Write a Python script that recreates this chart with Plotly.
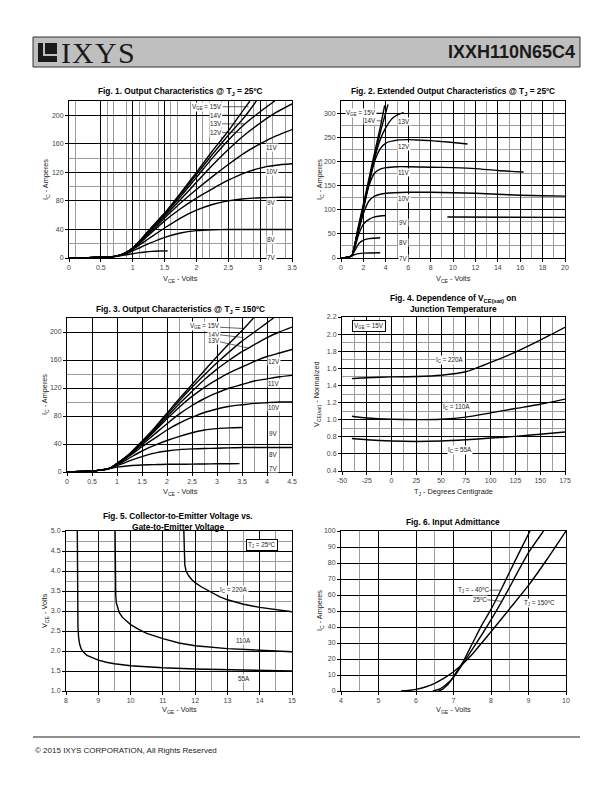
import plotly.graph_objects as go

# page has an 8px body margin, so the figure is sized to fit the 612x792 window
W, H = 604, 784
OFF = 8
def px(x): return (x - OFF) / W
def py(y): return 1 - (y - OFF) / H

# ---------------- DATA ----------------
# Fig 1: Output characteristics @ Tj=25C  (VCE volts, IC amps)
f1_x_7 = [0, 0.3, 0.5, 0.7, 0.8, 0.9, 1.0, 1.1, 1.2, 1.3, 1.4, 1.55]
f1_y_7 = [0, 0.5, 1, 2, 3, 4.5, 6, 7.5, 8.5, 9.3, 9.8, 10]
f1_x = [0, 0.3, 0.5, 0.7, 0.8, 0.9, 1.0, 1.1, 1.25, 1.5, 1.75, 2.0, 2.25, 2.5, 2.75, 3.0, 3.25, 3.5]
f1_y_8 = [0, 0.5, 1, 2, 3.5, 6, 10, 14, 20, 29, 35, 38.3, 39.5, 40, 40, 40, 40, 40]
f1_y_9 = [0, 0.5, 1, 2, 4, 7, 12, 18, 27, 42, 56, 67, 75, 80, 83, 84.5, 85, 85]
f1_y_10 = [0, 0.5, 1, 2, 4, 8, 13, 20, 32, 52, 69, 84, 97, 109, 119, 126, 130, 132]
f1_y_11 = [0, 0.5, 1, 2, 4, 8, 13.5, 21, 34, 56, 77, 96, 114, 131, 147, 160, 171, 180]
f1_y_12 = [0, 0.5, 1, 2, 4, 8, 14, 22, 36, 59, 82, 106, 130, 152, 172, 189, 204, 216]
f1_x_13 = [0, 0.3, 0.5, 0.7, 0.8, 0.9, 1.0, 1.1, 1.25, 1.5, 1.75, 2.0, 2.25, 2.5, 2.75, 3.0, 3.23]
f1_y_13 = [0, 0.5, 1, 2, 4, 8, 14, 22.5, 37, 61, 86, 113, 140, 165, 187, 205, 220]
f1_x_14 = [0, 0.3, 0.5, 0.7, 0.8, 0.9, 1.0, 1.1, 1.25, 1.5, 1.75, 2.0, 2.25, 2.5, 2.75, 2.94]
f1_y_14 = [0, 0.5, 1, 2, 4, 8, 14, 23, 38, 62, 89, 117, 145, 172, 197, 220]
f1_x_15 = [0, 0.3, 0.5, 0.7, 0.8, 0.9, 1.0, 1.1, 1.25, 1.5, 1.75, 2.0, 2.25, 2.5, 2.75, 2.84]
f1_y_15 = [0, 0.5, 1, 2, 4, 8, 14, 23, 38.5, 63, 91, 120, 150, 178, 209, 220]
f1_xticks = [0, 0.5, 1, 1.5, 2, 2.5, 3, 3.5]
f1_xticktext = ["0", "0.5", "1", "1.5", "2", "2.5", "3", "3.5"]
f1_yticks = [0, 40, 80, 120, 160, 200]
f1_xminor = [0.1, 0.6, 0.7, 0.9, 1.1, 1.2, 1.4, 1.6, 1.7, 1.9, 2.1, 2.2, 2.4, 2.6, 2.7, 2.9, 3.1, 3.2, 3.4]
f1_yminor = [20, 100, 140]

# Fig 2: Extended output characteristics @ Tj=25C
f2_x_7 = [0, 0.5, 0.8, 1.0, 1.3, 1.6, 2.0, 2.5, 3.5]
f2_y_7 = [0, 1, 3, 5, 7.5, 9, 10, 10.5, 11]
f2_x_8 = [0, 0.5, 0.8, 1.0, 1.3, 1.6, 2.0, 2.5, 3.0, 3.5]
f2_y_8 = [0, 1, 3, 6, 18, 30, 37, 40, 41, 42]
f2_x_9 = [0, 0.5, 0.8, 1.0, 1.3, 1.6, 2.0, 2.5, 3.0, 3.5, 4.0, None, 9.5, 20]
f2_y_9 = [0, 1, 3, 6, 27, 50, 70, 80, 85, 87, 88, None, 85, 84]
f2_x_10 = [0, 0.5, 0.8, 1.0, 1.3, 1.6, 2.0, 2.5, 3.0, 3.5, 4.0, 6, 8, 10, 12, 14, 16, 18, 20]
f2_y_10 = [0, 1, 3, 6, 30, 58, 92, 118, 128, 132, 134, 136, 136, 135, 134, 132, 130, 129, 128]
f2_x_11 = [0, 0.5, 0.8, 1.0, 1.3, 1.6, 2.0, 2.5, 3.0, 3.5, 4.0, 5, 6, 8, 10, 12, 14, 16.3]
f2_y_11 = [0, 1, 3, 6, 34, 64, 102, 150, 176, 184, 187, 189, 189, 188, 187, 185, 181, 178]
f2_x_12 = [0, 0.5, 0.8, 1.0, 1.3, 1.6, 2.0, 2.5, 3.0, 3.5, 4.0, 5, 6, 7, 8, 9, 10, 11.3]
f2_y_12 = [0, 1, 3, 6, 34, 65, 104, 155, 200, 226, 238, 244, 245, 244, 243, 241, 239, 236]
f2_x_13 = [0, 0.5, 0.8, 1.0, 1.3, 1.6, 2.0, 2.5, 3.0, 3.5, 4.0, 4.5, 5.0, 5.6]
f2_y_13 = [0, 1, 3, 6, 34, 65, 105, 157, 207, 245, 270, 287, 296, 301]
f2_x_14 = [0, 0.5, 0.8, 1.0, 1.5, 2.0, 2.5, 3.0, 3.5, 4.2]
f2_y_14 = [0, 1, 3, 6, 57, 106, 157, 208, 259, 318]
f2_x_15 = [0, 0.5, 0.8, 1.0, 1.5, 2.0, 2.5, 3.0, 3.5, 3.9]
f2_y_15 = [0, 1, 3, 6, 60, 112, 165, 218, 270, 316]
f2_xticks = [0, 2, 4, 6, 8, 10, 12, 14, 16, 18, 20]
f2_yticks = [0, 50, 100, 150, 200, 250, 300]
f2_xminor = [1, 3, 5, 7, 9, 11, 13, 15, 17, 19]
f2_yminor = [25, 75, 125, 175, 225, 275]

# Fig 3: Output characteristics @ Tj=150C
f3_x = [0, 0.3, 0.5, 0.7, 0.8, 0.9, 1.0, 1.25, 1.5, 1.75, 2.0, 2.25, 2.5, 2.75, 3.0, 3.25, 3.5, 3.75, 4.0, 4.25, 4.5]
f3_x_7 = [0, 0.3, 0.5, 0.7, 0.8, 0.9, 1.0, 1.25, 1.5, 1.75, 2.0, 2.25, 2.5, 2.75, 3.0, 3.25, 3.45]
f3_y_7 = [0, 0.8, 1.5, 3, 4, 5.5, 7, 9, 10, 10.5, 11, 11, 11.3, 11.5, 11.7, 11.8, 12]
f3_y_8 = [0, 0.8, 1.5, 3, 4, 6, 9, 16, 22, 27, 30, 32, 33, 33.5, 34, 34.5, 35, 35, 35, 35, 35]
f3_x_9 = [0, 0.3, 0.5, 0.7, 0.8, 0.9, 1.0, 1.25, 1.5, 1.75, 2.0, 2.25, 2.5, 2.75, 3.0, 3.25, 3.5]
f3_y_9 = [0, 0.8, 1.5, 3, 4, 6.5, 10, 20, 30, 38, 45, 51, 56, 60, 62, 63, 63.5]
f3_y_10 = [0, 0.8, 1.5, 3, 4, 7, 11, 23, 36, 48, 60, 70, 78, 85, 90, 94, 96, 98, 99, 100, 100]
f3_y_11 = [0, 0.8, 1.5, 3, 4, 7, 11.5, 24, 39, 54, 69, 83, 95, 105, 113, 120, 125, 130, 133, 136, 138]
f3_y_12 = [0, 0.8, 1.5, 3, 4, 7, 12, 25, 41, 58, 76, 93, 108, 121, 132, 142, 150, 158, 165, 170, 175]
f3_y_13 = [0, 0.8, 1.5, 3, 4, 7, 12, 25, 42, 60, 79, 98, 115, 132, 147, 160, 172, 182, 192, 200, 207]
f3_x_14 = [0, 0.3, 0.5, 0.7, 0.8, 0.9, 1.0, 1.25, 1.5, 1.75, 2.0, 2.25, 2.5, 2.75, 3.0, 3.25, 3.5, 3.75, 4.0, 4.13]
f3_y_14 = [0, 0.8, 1.5, 3, 4, 7, 12, 25, 43, 62, 82, 102, 121, 139, 156, 172, 187, 200, 213, 220]
f3_x_15 = [0, 0.3, 0.5, 0.7, 0.8, 0.9, 1.0, 1.25, 1.5, 1.75, 2.0, 2.25, 2.5, 2.75, 3.0, 3.25, 3.5, 3.73]
f3_y_15 = [0, 0.8, 1.5, 3, 4, 7, 12, 26, 44, 63, 84, 105, 125, 145, 165, 184, 202, 220]
f3_xticks = [0, 0.5, 1, 1.5, 2, 2.5, 3, 3.5, 4, 4.5]
f3_xticktext = ["0", "0.5", "1", "1.5", "2", "2.5", "3", "3.5", "4", "4.5"]
f3_yticks = [0, 40, 80, 120, 160, 200]
f3_xminor = [2.25, 2.75, 3.25, 3.75, 4.25]
f3_yminor = [100, 140]

# Fig 4: VCE(sat) normalized vs junction temperature
f4_tj = [-40, -25, 0, 25, 50, 75, 100, 125, 150, 175]
f4_220 = [1.48, 1.49, 1.50, 1.505, 1.52, 1.56, 1.67, 1.79, 1.93, 2.08]
f4_110 = [1.04, 1.02, 1.005, 1.0, 1.005, 1.03, 1.08, 1.13, 1.18, 1.24]
f4_55 = [0.78, 0.765, 0.75, 0.745, 0.75, 0.765, 0.785, 0.805, 0.83, 0.855]
f4_xticks = [-50, -25, 0, 25, 50, 75, 100, 125, 150, 175]
f4_xticktext = ["-50", "-25", "0", "25", "50", "75", "100", "125", "150", "175"]
f4_yticks = [0.4, 0.6, 0.8, 1.0, 1.2, 1.4, 1.6, 1.8, 2.0, 2.2]
f4_xminor = [-37.5, -12.5, 12.5, 37.5, 62.5, 87.5, 112.5, 137.5, 162.5]
f4_yminor = [0.9, 1.1, 1.3, 1.5, 1.7, 1.9]

# Fig 5: VCE vs VGE @ Tj=25C
f5_x_55 = [8.35, 8.355, 8.36, 8.37, 8.39, 8.42, 8.47, 8.55, 8.65, 8.8, 9.0, 9.25, 9.5, 10, 10.5, 11, 12, 13, 14, 15]
f5_y_55 = [5.0, 4.0, 3.0, 2.6, 2.35, 2.18, 2.05, 1.96, 1.89, 1.83, 1.77, 1.72, 1.68, 1.63, 1.60, 1.58, 1.55, 1.53, 1.51, 1.50]
f5_x_110 = [9.52, 9.525, 9.53, 9.54, 9.56, 9.6, 9.65, 9.75, 9.9, 10, 10.25, 10.5, 11, 11.5, 12, 12.5, 13, 14, 15]
f5_y_110 = [5.0, 4.3, 3.7, 3.4, 3.2, 3.06, 2.96, 2.84, 2.72, 2.66, 2.54, 2.44, 2.31, 2.2, 2.13, 2.09, 2.06, 2.02, 1.98]
f5_x_220 = [11.65, 11.655, 11.66, 11.68, 11.72, 11.8, 11.9, 12.0, 12.2, 12.5, 12.75, 13, 13.5, 14, 14.5, 15]
f5_y_220 = [5.0, 4.6, 4.35, 4.15, 4.0, 3.88, 3.78, 3.71, 3.6, 3.46, 3.36, 3.28, 3.17, 3.09, 3.03, 2.98]
f5_xticks = [8, 9, 10, 11, 12, 13, 14, 15]
f5_yticks = [1.0, 1.5, 2.0, 2.5, 3.0, 3.5, 4.0, 4.5, 5.0]
f5_xminor = [9.5, 11.5, 12.5, 13.5, 14.5]
f5_yminor = [3.25, 3.75, 4.25, 4.75]

# Fig 6: Input admittance
f6_x_m40 = [6.6, 6.7, 6.8, 6.9, 7.0, 7.25, 7.5, 7.75, 8.0, 8.25, 8.5, 8.75, 9.04]
f6_y_m40 = [0, 1, 3, 5.5, 9, 18, 29.5, 41, 51, 62.5, 74.5, 86.5, 100]
f6_x_25 = [6.45, 6.6, 6.7, 6.85, 7.0, 7.25, 7.5, 7.75, 8.0, 8.25, 8.5, 8.75, 9.0, 9.4]
f6_y_25 = [0, 1, 2.2, 5, 8.5, 17, 26, 35, 44.5, 54.5, 65, 76, 86.5, 100]
f6_x_150 = [5.6, 5.8, 6.0, 6.25, 6.5, 6.75, 7.0, 7.25, 7.5, 7.75, 8.0, 8.5, 9.0, 9.5, 10.0]
f6_y_150 = [0, 0.3, 1, 2.5, 4.8, 8, 12, 17, 23, 30, 37, 51.5, 66, 82.5, 100]
f6_xticks = [4, 5, 6, 7, 8, 9, 10]
f6_yticks = [0, 10, 20, 30, 40, 50, 60, 70, 80, 90, 100]
f6_xminor = [4.5, 6.5, 8.5]

# header / footer text
logo_letters = ["I", "X", "Y", "S"]
part_number = "IXXH110N65C4"
footer_text = "© 2015 IXYS CORPORATION, All Rights Reserved"

# ---------------- FIGURE ----------------
SANS = "Liberation Sans, Arial, sans-serif"
SERIF = "Liberation Serif, Times New Roman, serif"
fig = go.Figure()

def add(x, y, ax, shape="spline", width=1.4):
    n = "" if ax == 1 else str(ax)
    fig.add_trace(go.Scatter(x=x, y=y, mode="lines", xaxis="x" + n, yaxis="y" + n,
                             line=dict(color="black", width=width, shape=shape, smoothing=0.6),
                             showlegend=False, hoverinfo="skip"))

for yy in [f1_y_8, f1_y_9, f1_y_10, f1_y_11, f1_y_12]:
    add(f1_x, yy, 1)
add(f1_x_7, f1_y_7, 1)
add(f1_x_13, f1_y_13, 1)
add(f1_x_14, f1_y_14, 1)
add(f1_x_15, f1_y_15, 1)

for xx, yy in [(f2_x_7, f2_y_7), (f2_x_8, f2_y_8), (f2_x_9, f2_y_9), (f2_x_10, f2_y_10),
               (f2_x_11, f2_y_11), (f2_x_12, f2_y_12), (f2_x_13, f2_y_13),
               (f2_x_14, f2_y_14), (f2_x_15, f2_y_15)]:
    add(xx, yy, 2)

add(f3_x_7, f3_y_7, 3)
add(f3_x, f3_y_8, 3)
add(f3_x_9, f3_y_9, 3)
for yy in [f3_y_10, f3_y_11, f3_y_12, f3_y_13]:
    add(f3_x, yy, 3)
add(f3_x_14, f3_y_14, 3)
add(f3_x_15, f3_y_15, 3)

for yy in [f4_220, f4_110, f4_55]:
    add(f4_tj, yy, 4)

add(f5_x_55, f5_y_55, 5, shape="linear")
add(f5_x_110, f5_y_110, 5, shape="linear")
add(f5_x_220, f5_y_220, 5, shape="linear")

add(f6_x_m40, f6_y_m40, 6)
add(f6_x_25, f6_y_25, 6)
add(f6_x_150, f6_y_150, 6)

def axis(l, r, rng, tickvals, minor, anchor, ticktext=None, fmt=None, ytitle=False):
    d = dict(domain=[px(l), px(r)] if not ytitle else [py(r), py(l)], range=rng,
             tickmode="array", tickvals=tickvals,
             showgrid=True, gridcolor="black", gridwidth=1,
             minor=dict(tickmode="array", tickvals=minor, showgrid=True,
                        gridcolor="#9c9c9c", gridwidth=1, ticks=""),
             showline=True, linecolor="black", linewidth=1, mirror=True,
             ticks="outside", ticklen=3, tickwidth=1, tickcolor="black",
             tickfont=dict(size=7, color="#444", family=SANS),
             zeroline=False, anchor=anchor, fixedrange=True, automargin=False)
    if ticktext is not None:
        d["ticktext"] = ticktext
    if fmt:
        d["tickformat"] = fmt
    return d

fig.update_layout(
    width=W, height=H, margin=dict(l=0, r=0, t=0, b=0, autoexpand=False),
    paper_bgcolor="white", plot_bgcolor="white", showlegend=False,
    xaxis=axis(69, 292, [0, 3.5], f1_xticks, f1_xminor, "y", f1_xticktext),
    yaxis=axis(101, 258, [0, 220], f1_yticks, f1_yminor, "x", ytitle=True),
    xaxis2=axis(341, 565, [0, 20], f2_xticks, f2_xminor, "y2"),
    yaxis2=axis(101, 258, [0, 325], f2_yticks, f2_yminor, "x2", ytitle=True),
    xaxis3=axis(67, 292, [0, 4.5], f3_xticks, f3_xminor, "y3", f3_xticktext),
    yaxis3=axis(318, 472, [0, 220], f3_yticks, f3_yminor, "x3", ytitle=True),
    xaxis4=axis(342, 565, [-50, 175], f4_xticks, f4_xminor, "y4", f4_xticktext),
    yaxis4=axis(317, 471, [0.4, 2.2], f4_yticks, f4_yminor, "x4", fmt=".1f", ytitle=True),
    xaxis5=axis(66, 292, [8, 15], f5_xticks, f5_xminor, "y5"),
    yaxis5=axis(531, 691, [1, 5], f5_yticks, f5_yminor, "x5", fmt=".1f", ytitle=True),
    xaxis6=axis(341, 566, [4, 10], f6_xticks, f6_xminor, "y6"),
    yaxis6=axis(531, 691, [0, 100], f6_yticks, [], "x6", ytitle=True),
)

ann = []
def lab(ax, x, y, text, hx=None, hy=None, box=False, size=6.3):
    n = "" if ax == 1 else str(ax)
    a = dict(xref="x" + n, yref="y" + n, text=text, font=dict(size=size, color="#222", family=SANS),
             bgcolor="white", borderpad=0)
    if box:
        a.update(bordercolor="black", borderwidth=1, borderpad=1)
    if hx is None:
        a.update(x=x, y=y, showarrow=False)
    else:
        a.update(x=hx, y=hy, ax=x, ay=y, axref="x" + n, ayref="y" + n, showarrow=True,
                 arrowhead=0, arrowwidth=0.7, arrowcolor="#222", standoff=0, startstandoff=0)
    ann.append(a)

# Fig 1 labels
lab(1, 2.17, 212, "V<sub>GE</sub> = 15V", 2.82, 212)
lab(1, 2.30, 200, "14V", 2.82, 200)
lab(1, 2.30, 188, "13V", 2.76, 188)
lab(1, 2.30, 176, "12V", 2.72, 176)
for t, y in [("11V", 155), ("10V", 121), ("9V", 78), ("8V", 26), ("7V", 1)]:
    lab(1, 3.18, y, t)
# Fig 2 labels
lab(2, 1.78, 300, "V<sub>GE</sub> = 15V", 3.72, 300)
lab(2, 2.6, 284, "14V", 3.6, 284)
for t, y in [("13V", 283), ("12V", 230), ("11V", 176), ("10V", 124), ("9V", 73), ("8V", 32), ("7V", 0)]:
    lab(2, 5.6, y, t)
# Fig 3 labels
lab(3, 2.75, 208, "V<sub>GE</sub> = 15V", 3.53, 205)
lab(3, 2.93, 197, "14V", 3.53, 192)
lab(3, 2.93, 188, "13V", 3.63, 177)
for t, y in [("12V", 158), ("11V", 126), ("10V", 92), ("9V", 55), ("8V", 25), ("7V", 5)]:
    lab(3, 4.13, y, t)
# Fig 4 labels
lab(4, -23, 2.09, "V<sub>GE</sub> = 15V", box=True)
lab(4, 59, 1.70, "I<sub>C</sub> = 220A")
lab(4, 66, 1.15, "I<sub>C</sub> = 110A")
lab(4, 69, 0.65, "I<sub>C</sub> = 55A")
# Fig 5 labels
lab(5, 14.07, 4.65, "T<sub>J</sub> = 25ºC", box=True)
lab(5, 13.2, 3.52, "I<sub>C</sub> = 220A")
lab(5, 13.5, 2.27, "110A")
lab(5, 13.5, 1.32, "55A")
# Fig 6 labels
lab(6, 7.53, 63, "T<sub>J</sub> = - 40ºC", 8.27, 63)
lab(6, 7.7, 57.5, "25ºC", 8.3, 56)
lab(6, 9.3, 55, "T<sub>J</sub> = 150ºC")

def ptxt(x, y, text, size=8.3, bold=True, family=SANS, xanchor="center", color="black", angle=0):
    ann.append(dict(xref="paper", yref="paper", x=px(x), y=py(y), text=("<b>%s</b>" % text) if bold else text,
                    showarrow=False, xanchor=xanchor, yanchor="middle", textangle=angle,
                    font=dict(size=size, color=color, family=family)))

ptxt(180, 92, "Fig. 1. Output Characteristics @ T<sub>J</sub> = 25ºC")
ptxt(453, 92, "Fig. 2. Extended Output Characteristics @ T<sub>J</sub> = 25ºC")
ptxt(180, 309, "Fig. 3. Output Characteristics @ T<sub>J</sub> = 150ºC")
ptxt(453, 298, "Fig. 4. Dependence of V<sub>CE(sat)</sub> on")
ptxt(453, 309, "Junction Temperature")
ptxt(178, 516, "Fig. 5. Collector-to-Emitter Voltage vs.")
ptxt(178, 527, "Gate-to-Emitter Voltage")
ptxt(453, 522, "Fig. 6. Input Admittance")

# axis titles
IC = "I<sub>C</sub> - Amperes"
VCE = "V<sub>CE</sub> - Volts"
VGE = "V<sub>GE</sub> - Volts"
AT = dict(size=7.3, bold=False, color="#222")
ptxt(180, 279, VCE, **AT)
ptxt(46, 180, IC, angle=-90, **AT)
ptxt(453, 279, VCE, **AT)
ptxt(320, 180, IC, angle=-90, **AT)
ptxt(180, 492, VCE, **AT)
ptxt(45, 395, IC, angle=-90, **AT)
ptxt(453, 492, "T<sub>J</sub> - Degrees Centigrade", **AT)
ptxt(317, 394, "V<sub>CE(sat)</sub> - Normalized", angle=-90, **AT)
ptxt(179, 710, VGE, **AT)
ptxt(45, 611, VCE, angle=-90, **AT)
ptxt(453, 710, VGE, **AT)
ptxt(320, 611, IC, angle=-90, **AT)

# header
ptxt(577, 52, part_number, size=18, family=SANS, xanchor="right", color="#1a1a1a")
for letter, lx in zip(logo_letters, [59, 70, 93, 116]):
    ptxt(lx, 52, letter, size=30, bold=False, family=SERIF, xanchor="left", color="#1a1a1a")
# footer
ptxt(33, 750, footer_text, size=8, bold=False, family=SANS, xanchor="left", color="#222")

fig.update_layout(annotations=ann)

shapes = [
    dict(type="rect", xref="paper", yref="paper", x0=px(33), x1=px(580), y0=py(67), y1=py(37),
         fillcolor="#bfbfbf", line=dict(color="#333", width=1), layer="below"),
    dict(type="rect", xref="paper", yref="paper", x0=px(38), x1=px(57), y0=py(62), y1=py(43),
         fillcolor="#1a1a1a", line=dict(width=0)),
    dict(type="rect", xref="paper", yref="paper", x0=px(43), x1=px(45), y0=py(56), y1=py(43),
         fillcolor="#bfbfbf", line=dict(width=0)),
    dict(type="rect", xref="paper", yref="paper", x0=px(43), x1=px(57), y0=py(56), y1=py(54),
         fillcolor="#bfbfbf", line=dict(width=0)),
    dict(type="line", xref="paper", yref="paper", x0=px(33), x1=px(580), y0=py(737), y1=py(737),
         line=dict(color="#222", width=1.2)),
]
fig.update_layout(shapes=shapes)

fig.write_html("out.html")
